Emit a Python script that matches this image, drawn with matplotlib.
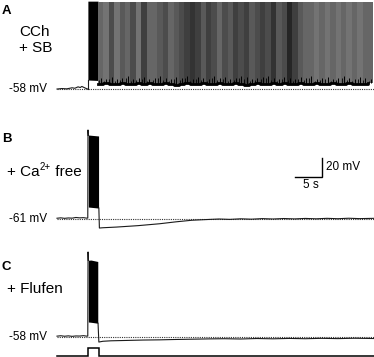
import matplotlib.pyplot as plt
import numpy as np
from matplotlib.colors import LinearSegmentedColormap, Normalize

plt.rcParams["font.family"] = ["Liberation Sans", "DejaVu Sans"]

# figure geometry (pixels) and recording scale
W, H = 374, 357
PX_PER_S = 5.4      # 5 s  -> 27 px
PX_PER_MV = 0.95    # 20 mV -> 19 px
X_START = 57        # pixel where the traces start
T0 = -X_START / PX_PER_S
T1 = (W - X_START) / PX_PER_S

# ---------------- A: CCh + SB ----------------
a_rest = -58
a_pre_t = [0.0, 0.9, 1.8, 2.8, 3.3, 3.9, 4.3, 4.6, 5.2, 5.65, 5.72]
a_pre_v = [-57.5, -57.0, -57.3, -56.2, -56.7, -55.2, -55.9, -54.8, -56.4, -57.5, -57.5]
a_burst_t = [5.72, 7.6]
a_burst_top = [35.0, 35.0]
a_burst_bot = [-48.0, -48.5]
a_peak = 34.0
a_bin_start = 7.6   # s, 1 s bins of sustained firing
a_rate = [6.0, 5.5, 7.0, 5.5, 6.5, 6.0, 7.0, 5.5, 7.5, 6.0,
          6.0, 6.5, 7.0, 6.0, 6.5, 7.0, 7.5, 8.0, 7.5, 6.5,
          7.5, 7.0, 6.0, 7.0, 6.5, 7.5, 7.0, 7.5, 6.5, 7.0,
          7.5, 7.0, 8.0, 6.5, 7.0, 8.5, 7.5, 6.5, 6.0, 6.0,
          5.5, 6.0, 5.5, 6.0, 5.5, 6.0, 5.5, 6.0, 5.5, 6.0,
          6.0]
a_trough_top = [-46, -47, -45, -47, -46, -44, -47, -46, -45, -47,
                -46, -44, -46, -47, -45, -46, -44, -47, -45, -46,
                -47, -44, -46, -45, -47, -46, -44, -45, -47, -46,
                -45, -44, -46, -47, -45, -46, -47, -45, -46, -44,
                -47, -46, -45, -47, -46, -44, -46, -47, -45, -46,
                -47]
a_trough_bot = [-52, -51.5, -52.5, -52, -51, -52, -52.5, -51.5, -52, -51,
                -52.5, -52, -51.5, -52, -53, -52, -51.5, -52.5, -52, -51.5,
                -52, -52.5, -51, -52, -52.5, -51.5, -52, -53, -52, -51.5,
                -52, -52.5, -51.5, -52, -51, -52.5, -52, -51.5, -52, -52.5,
                -51.5, -52, -52.5, -51, -52, -52.5, -51.5, -52, -52.5, -52,
                -51.5]

# ---------------- B: + Ca2+ free ----------------
b_rest = -61
b_pre_t = [0.0, 0.7, 1.4, 2.1, 2.8, 3.5, 4.2, 4.9, 5.5, 5.7]
b_pre_v = [-60.2, -59.8, -60.3, -59.9, -60.1, -59.4, -59.8, -59.6, -60.1, -60.0]
b_spike_t = [5.7, 5.74, 5.8]
b_spike_v = [-60.0, 32.7, 27.0]
b_burst_t = [5.8, 7.7]
b_burst_top = [27.4, 26.4]
b_burst_bot = [-48.4, -49.5]
b_post_t = [7.75, 7.85, 8.5, 11, 15, 19, 22, 25, 28, 30, 32, 34, 36, 38, 40,
            42, 44, 46, 48, 50, 52, 54, 56, 58.7]
b_post_v = [-49.5, -70.5, -70.2, -69.5, -68.0, -66.0, -64.0, -62.3, -61.5,
            -61.0, -61.4, -60.8, -61.2, -60.6, -61.0, -60.5, -60.9, -60.4,
            -60.8, -60.3, -60.7, -60.2, -60.6, -60.3]
bar_mv, bar_s = 20, 5

# ---------------- C: + Flufen ----------------
c_rest = -58
c_pre_t = [0.0, 0.7, 1.4, 2.1, 2.8, 3.5, 4.2, 4.9, 5.5, 5.7]
c_pre_v = [-57.1, -56.7, -57.2, -56.8, -57.3, -56.9, -57.0, -56.6, -57.1, -57.0]
c_spike_t = [5.7, 5.75, 5.8]
c_spike_v = [-57.0, 31.5, 22.8]
c_burst_t = [5.8, 6.3, 7.55]
c_burst_top = [22.8, 23.0, 21.5]
c_burst_bot = [-42.2, -42.5, -43.5]
c_post_t = [7.6, 7.75, 8.5, 10, 13, 16, 19, 22, 25, 28, 31, 34, 37, 40, 43,
            46, 49, 52, 55, 58.7]
c_post_v = [-43.5, -63.3, -62.5, -62.0, -61.6, -61.2, -61.0, -60.6, -60.3,
            -60.0, -59.8, -60.1, -59.6, -59.9, -59.5, -59.8, -59.4, -59.7,
            -59.3, -59.6]

# stimulus protocol
stim_t = [0.0, 5.8, 5.8, 7.8, 7.8, 58.7]
stim_v = [0, 0, 1, 1, 0, 0]

TRACE = "#1a1a1a"

fig = plt.figure(figsize=(W / 100, H / 100), dpi=100)


def panel(top_px, bot_px, ref_mv, ref_px):
    ax = fig.add_axes([0, 1 - bot_px / H, 1, (bot_px - top_px) / H])
    ax.set_xlim(T0, T1)
    ax.set_ylim(ref_mv - (bot_px - ref_px) / PX_PER_MV,
                ref_mv + (ref_px - top_px) / PX_PER_MV)
    ax.axis("off")
    ax.plot([0, T1], [ref_mv, ref_mv], color="#333333", lw=0.8,
            ls=(0, (1, 1)), zorder=1)
    return ax


def label(x, y, s, **kw):
    return fig.text(x / W, 1 - y / H, s, va="center", **kw)


# panel A
axA = panel(0, 120, a_rest, 89.5)
axA.plot(a_pre_t, a_pre_v, color=TRACE, lw=0.8)
axA.plot([a_pre_t[-1], a_burst_t[0]], [a_pre_v[-1], a_burst_bot[0]],
         color=TRACE, lw=0.8)
axA.fill_between(a_burst_t, a_burst_bot, a_burst_top, color="black", lw=0)
cmap = LinearSegmentedColormap.from_list("spk", ["white", "black"])
norm = Normalize(0, 10)
bin_t = a_bin_start + np.arange(len(a_rate))
axA.bar(bin_t, a_peak - np.array(a_trough_bot), bottom=a_trough_bot,
        width=1.0, align="edge", color=cmap(norm(a_rate)), lw=0)
axA.vlines(bin_t + 0.5, a_trough_bot, a_trough_top, color="black", lw=0.7)
axA.vlines(bin_t + 0.1, a_trough_bot, np.array(a_trough_top) - 2,
           color="black", lw=0.6)
axA.step(bin_t, a_trough_bot, where="post", color="black", lw=2.0)

# panel B
axB = panel(120, 240, b_rest, 219)
axB.plot(b_pre_t + b_spike_t[1:], b_pre_v + b_spike_v[1:], color=TRACE, lw=0.8)
axB.fill_between(b_burst_t, b_burst_bot, b_burst_top, color="black", lw=0)
axB.plot(b_post_t, b_post_v, color=TRACE, lw=0.8)
bx = (321.7 - X_START) / PX_PER_S
by = b_rest + (219 - 177) / PX_PER_MV
axB.plot([bx - bar_s, bx, bx], [by, by, by + bar_mv], color="black", lw=1.0,
         solid_joinstyle="miter")

# panel C
axC = panel(240, 345, c_rest, 337)
axC.plot(c_pre_t + c_spike_t[1:], c_pre_v + c_spike_v[1:], color=TRACE, lw=0.8)
axC.fill_between(c_burst_t, c_burst_bot, c_burst_top, color="black", lw=0)
axC.plot(c_post_t, c_post_v, color=TRACE, lw=0.8)

# stimulus
axS = fig.add_axes([0, 0, 1, 12 / H])
axS.set_xlim(T0, T1)
axS.set_ylim(-0.125, 1.375)
axS.axis("off")
axS.plot(stim_t, stim_v, color="black", lw=1.1, solid_joinstyle="miter")

# labels
label(2, 10.5, "A", fontsize=9.5, fontweight="bold")
label(19, 32, "CCh", fontsize=11)
label(19, 47.5, "+ SB", fontsize=11)
label(9, 89.5, "-58 mV", fontsize=8.5)
label(2, 139.5, "B", fontsize=9.5, fontweight="bold")
t1 = label(7, 172, "+ Ca", fontsize=11)
label(9, 218.5, "-61 mV", fontsize=8.5)
label(326, 167, "20 mV", fontsize=8.5)
fig.text(311 / W, 1 - 185 / H, "5 s", va="center", ha="center", fontsize=8.5)
label(2, 267, "C", fontsize=9.5, fontweight="bold")
label(7, 289, "+ Flufen", fontsize=11)
label(9, 337.5, "-58 mV", fontsize=8.5)

# superscript for Ca2+: place right after the measured "+ Ca"
r = fig.canvas.get_renderer()
x1 = t1.get_window_extent(r).x1
t2 = fig.text(x1 / W, 1 - 167 / H, "2+", va="center", fontsize=7)
x2 = t2.get_window_extent(r).x1
fig.text(x2 / W, 1 - 172 / H, " free", va="center", fontsize=11)

fig.savefig("out.png", dpi=100)
